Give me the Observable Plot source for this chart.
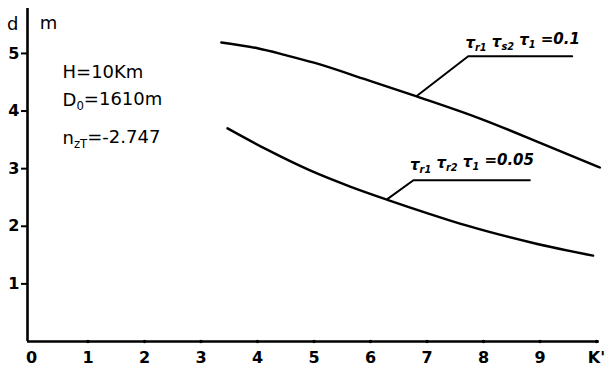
<!DOCTYPE html>
<html><head><meta charset="utf-8">
<script src="https://cdn.jsdelivr.net/npm/d3@7"></script>
<script src="https://cdn.jsdelivr.net/npm/@observablehq/plot@0.6"></script>
<style>body{margin:0;background:#fff}</style>
</head><body><div id="chart"></div>
<script>
// Curve: tau = 0.1
const kUpper = [3.36, 4.0, 4.5, 5.0, 5.94, 6.83, 7.94, 9.12, 10.06];
const dUpper = [5.19, 5.09, 4.97, 4.84, 4.54, 4.25, 3.87, 3.40, 3.02];
// Curve: tau = 0.05
const kLower = [3.47, 4.17, 4.93, 5.64, 6.30, 7.00, 7.71, 8.88, 9.94];
const dLower = [3.70, 3.33, 2.97, 2.69, 2.46, 2.23, 2.01, 1.71, 1.49];

const xTicks = [0, 1, 2, 3, 4, 5, 6, 7, 8, 9, 10];
const xTickLabels = ["0", "1", "2", "3", "4", "5", "6", "7", "8", "9", "K'"];
const yTicks = [1, 2, 3, 4, 5];
const yTickLabels = ["1", "2", "3", "4", "5"];

// curve labels (rich text: _{...} = subscript)
const curveLabels = ["τ_{r1} τ_{s2} τ_{1} =0.1", "τ_{r1} τ_{r2} τ_{1} =0.05"];
const curveLabelK = [7.68, 6.70];
const curveLabelD = [5.17, 3.06];
// leader lines: point on curve -> start of underline -> end of underline
const leaderK = [[6.83, 7.73, 9.57], [6.31, 6.76, 8.82]];
const leaderD = [[4.27, 4.95, 4.95], [2.48, 2.80, 2.80]];

// parameter block
const paramLines = ["H=10Km", "D_{0}=1610m", "n_{zT}=-2.747"];
const paramK = [0.55, 0.55, 0.55];
const paramD = [4.67, 4.18, 3.52];

// axis names
const axisNames = ["d", "m"];
const axisNameK = [-0.33, 0.30];
const axisNameD = [5.50, 5.52];

const curves = [
  ...kUpper.map((k, i) => ({k, d: dUpper[i], s: "a"})),
  ...kLower.map((k, i) => ({k, d: dLower[i], s: "b"}))
];
const leaders = [];
leaderK.forEach((ks, j) => ks.forEach((k, i) => leaders.push({k, d: leaderD[j][i], s: j})));

const font = "'DejaVu Sans', 'Liberation Sans', sans-serif";

const plot = Plot.plot({
  width: 608, height: 372,
  marginLeft: 27, marginRight: 12, marginTop: 8, marginBottom: 31,
  x: {domain: [-0.07, 10], axis: null},
  y: {domain: [0, 5.78], axis: null},
  style: {fontFamily: font, fontSize: "16px", color: "#000", background: "#fff"},
  marks: [
    Plot.axisX({ticks: xTicks, label: null, tickSize: 0, tickPadding: 10, tickFormat: (d) => xTickLabels[xTicks.indexOf(d)], fontSize: 16, fontWeight: "bold"}),
    Plot.axisY({ticks: yTicks, label: null, tickSize: 6, tickPadding: 2, strokeWidth: 2, tickFormat: (d) => yTickLabels[yTicks.indexOf(d)], fontSize: 16, fontWeight: "bold"}),
    Plot.dot(xTicks.slice(1), {x: (d) => d, y: 0, r: 1.8, fill: "#000", stroke: null}),
    Plot.ruleX([-0.07], {y1: 0, y2: 5.78, strokeWidth: 2.6}),
    Plot.ruleY([0], {x1: -0.07, x2: 10.05, strokeWidth: 2.6}),
    Plot.line(curves, {x: "k", y: "d", z: "s", curve: "monotone-x", strokeWidth: 2.4, stroke: "#000"}),
    Plot.line(leaders, {x: "k", y: "d", z: "s", strokeWidth: 2, stroke: "#000"}),
    Plot.text(curveLabels, {x: (d, i) => curveLabelK[i], y: (d, i) => curveLabelD[i], text: (d) => d, textAnchor: "start", fontSize: 15, fontStyle: "italic", fontWeight: "bold", className: "rich"}),
    Plot.text(paramLines, {x: (d, i) => paramK[i], y: (d, i) => paramD[i], text: (d) => d, textAnchor: "start", fontSize: 18, className: "rich"}),
    Plot.text(axisNames, {x: (d, i) => axisNameK[i], y: (d, i) => axisNameD[i], text: (d) => d, textAnchor: "middle", fontSize: 18})
  ]
});
document.getElementById("chart").appendChild(plot);

// render _{...} as subscripts
plot.querySelectorAll("g.rich text").forEach((t) => {
  const src = t.textContent;
  const parts = src.split(/(_\{[^}]*\})/).filter((p) => p.length);
  t.textContent = "";
  let sub = false;
  parts.forEach((p) => {
    const ts = document.createElementNS("http://www.w3.org/2000/svg", "tspan");
    if (p.startsWith("_{")) {
      ts.textContent = p.slice(2, -1);
      ts.setAttribute("font-size", "0.65em");
      ts.setAttribute("dy", sub ? "0" : "0.3em");
      sub = true;
    } else {
      ts.textContent = p;
      ts.setAttribute("dy", sub ? "-0.3em" : "0");
      sub = false;
    }
    t.appendChild(ts);
  });
});
</script>
</body></html>
